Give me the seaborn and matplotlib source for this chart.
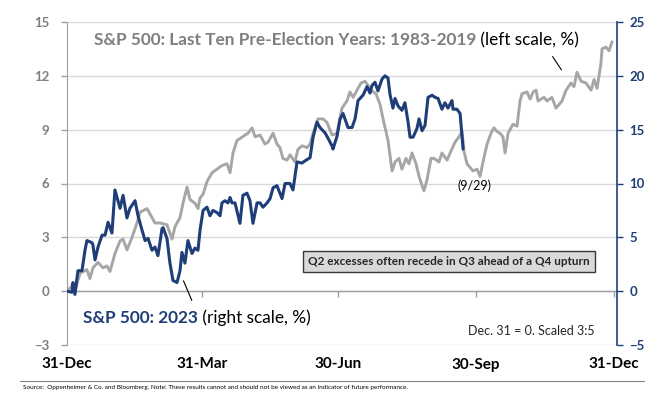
import seaborn as sns
import matplotlib.pyplot as plt
import pandas as pd

# gray: average of last ten pre-election years (left scale, %), x = days after Dec 31
gray_day = [0, 3.3, 5.3, 8.7, 13.3, 15.3, 17.3, 20.7, 24.0, 26.7, 28.7, 32.0, 35.4, 37.4, 40.0,
            43.4, 46.7, 48.7, 53.4, 55.4, 58.7, 62.1, 66.7, 70.1, 72.1, 75.4, 77.4, 80.1, 82.1,
            85.4, 87.4, 88.8, 90.8, 93.4, 96.8, 100.1, 103.4, 106.8, 108.8, 110.8, 113.4, 115.4,
            118.8, 120.8, 123.4, 125.5, 128.8, 132.1, 134.1, 137.5, 140.1, 142.1, 144.1, 146.8,
            148.8, 152.1, 154.1, 156.8, 160.2, 162.2, 164.2, 167.5, 170.8, 173.5, 176.8, 180.2,
            183.5, 186.8, 188.8, 190.9, 193.5, 196.2, 198.9, 202.9, 206.2, 208.9, 210.9, 214.2,
            216.9, 218.9, 221.5, 223.5, 226.2, 228.2, 230.2, 232.9, 234.9, 236.9, 238.2, 240.2,
            242.9, 244.9, 248.2, 250.2, 253.6, 256.2, 258.9, 261.6, 263.6, 264.9, 266.9, 268.9,
            270.9, 273.6, 275.6, 277.6, 280.3, 282.9, 284.9, 286.9, 288.9, 290.9, 292.3, 294.3,
            297.6, 300.3, 302.3, 303.6, 307.0, 309.0, 311.0, 313.0, 314.3, 318.3, 320.3, 323.6,
            326.3, 328.3, 330.3, 333.0, 336.3, 338.3, 340.3, 343.0, 346.3, 349.7, 351.7, 353.7,
            356.3, 357.0, 359.7, 361.7, 363.7]
gray_val = [0.0, 0.3, 0.0, 1.0, 1.2, 0.7, 1.3, 1.6, 1.3, 1.4, 1.1, 2.1, 2.8, 2.9, 2.3,
            3.0, 3.8, 4.4, 4.6, 4.3, 3.8, 3.8, 3.7, 2.9, 3.6, 4.1, 4.9, 5.8, 5.1,
            4.9, 4.6, 5.2, 5.4, 6.1, 6.6, 6.8, 7.0, 7.1, 6.6, 7.7, 8.4, 8.5,
            8.7, 8.8, 9.1, 8.6, 8.7, 8.2, 8.3, 8.8, 8.2, 8.0, 7.4, 7.3,
            7.6, 7.2, 7.9, 8.1, 8.0, 8.2, 8.8, 9.6, 9.6, 9.4, 8.7, 8.8,
            10.2, 10.6, 11.1, 10.8, 11.2, 11.6, 11.7, 11.2, 11.0, 10.4, 9.6, 8.4,
            6.7, 7.2, 7.4, 6.8, 7.4, 7.1, 7.7, 7.1, 6.4, 5.9, 5.6, 6.2,
            7.4, 7.4, 7.2, 7.7, 7.3, 7.8, 8.3, 8.6, 8.9, 7.8, 7.1, 6.9,
            6.7, 6.8, 6.4, 7.2, 8.2, 8.8, 9.1, 8.9, 8.8, 8.6, 7.7, 8.8,
            9.3, 9.2, 10.6, 11.0, 11.1, 10.7, 11.1, 11.2, 10.6, 10.8, 10.6, 10.8,
            10.2, 10.4, 10.6, 11.2, 11.6, 11.4, 12.2, 11.7, 11.6, 11.2, 11.8, 11.3,
            12.7, 13.5, 13.6, 13.4, 13.9]

# blue: S&P 500 in 2023 (right scale, %), through 9/29
blue_day = [0, 3.3, 4.0, 5.3, 7.3, 10.0, 12.0, 13.3, 16.7, 17.3, 18.7, 20.7, 23.4, 25.4,
            27.4, 30.0, 32.0, 35.4, 37.4, 40.0, 42.0, 45.4, 47.4, 50.0, 52.1, 54.1, 56.7,
            58.7, 60.7, 63.4, 64.1, 66.7, 68.7, 70.7, 73.4, 75.4, 76.7, 78.7, 80.7, 83.4,
            85.4, 87.4, 88.8, 90.8, 93.4, 95.4, 97.4, 100.1, 102.1, 103.4, 105.4, 107.4,
            108.8, 110.1, 112.1, 115.4, 117.4, 120.1, 122.1, 124.1, 126.8, 128.8, 130.8,
            133.5, 135.5, 137.5, 140.1, 143.5, 145.5, 148.8, 150.8, 153.5, 156.8, 158.8,
            162.2, 164.2, 166.8, 168.8, 172.2, 174.2, 176.8, 177.5, 180.2, 182.2, 184.2,
            187.5, 190.2, 192.2, 194.2, 197.5, 200.2, 202.2, 203.5, 205.5, 207.5, 210.2,
            212.2, 214.2, 215.5, 217.5, 218.9, 220.9, 223.5, 225.5, 227.6, 228.9, 230.9,
            233.5, 234.9, 236.9, 238.9, 240.9, 243.6, 245.6, 247.6, 250.2, 252.2, 254.2,
            256.9, 257.6, 260.2, 262.3, 264.3]
blue_val = [0.0, -0.1, 0.8, -0.3, 1.9, 1.9, 3.8, 4.7, 4.5, 4.3, 2.9, 4.1, 5.2, 5.2,
            6.4, 5.4, 9.4, 7.7, 8.9, 6.8, 7.7, 8.4, 7.0, 5.7, 4.7, 4.9, 3.8,
            4.1, 3.3, 5.8, 5.9, 4.9, 2.6, 1.0, 0.8, 1.9, 3.6, 2.6, 4.7, 3.5,
            4.0, 3.8, 5.7, 7.5, 7.8, 7.0, 7.5, 7.3, 7.0, 8.2, 8.4, 8.2,
            8.7, 8.2, 8.2, 6.3, 8.9, 9.1, 8.4, 6.3, 8.2, 8.2, 7.8,
            8.2, 8.6, 9.6, 9.8, 8.6, 10.0, 10.0, 9.4, 12.0, 11.9, 12.1,
            12.4, 14.3, 15.7, 15.2, 14.7, 14.2, 13.5, 13.2, 14.4, 16.0, 16.5,
            15.2, 15.2, 16.0, 17.7, 18.2, 19.0, 18.4, 19.1, 19.4, 18.6, 19.7,
            20.0, 19.8, 18.3, 17.0, 17.9, 17.2, 16.8, 17.5, 15.7, 14.3, 14.3,
            15.1, 16.0, 14.9, 15.4, 18.0, 18.2, 18.0, 17.9, 16.9, 17.5, 17.0,
            17.7, 16.9, 16.9, 16.5, 13.2]

tick_days = [0, 90, 181, 273, 365]
tick_labels = ['31-Dec', '31-Mar', '30-Jun', '30-Sep', '31-Dec']
left_ticks = [-3, 0, 3, 6, 9, 12, 15]
right_ticks = [-5, 0, 5, 10, 15, 20, 25]

GRAY = '#a6a6a6'
BLUE = '#1f3e78'
LABEL_GRAY = '#7f7f7f'

sns.set_style('white')
plt.rcParams['font.family'] = ['Lato', 'DejaVu Sans']

gray_df = pd.DataFrame({'day': gray_day, 'pct': gray_val})
blue_df = pd.DataFrame({'day': blue_day, 'pct': blue_val})

fig = plt.figure(figsize=(6.54, 3.99), dpi=100)
ax = fig.add_axes([67 / 654, 1 - 345 / 399, 550 / 654, 323 / 399])
ax2 = ax.twinx()

for y in left_ticks:
    ax.axhline(y, color='#d9d9d9', lw=1, zorder=0)
ax.axhline(0, color='#a0a0a0', lw=1, zorder=0)
ax.vlines(tick_days[1:], -0.33, 0, color='#a0a0a0', lw=1, zorder=0)

sns.lineplot(data=gray_df, x='day', y='pct', ax=ax, color=GRAY, lw=2.1, sort=False)
sns.lineplot(data=blue_df, x='day', y='pct', ax=ax2, color=BLUE, lw=2.2, sort=False)

ax.set_xlim(0, 367)
ax.set_ylim(-3, 15)
ax2.set_ylim(-5, 25)
ax.set_yticks(left_ticks)
ax2.set_yticks(right_ticks)
ax.set_xticks(tick_days)
ax.set_xticklabels(tick_labels, fontsize=11, fontweight='bold', color='black')
ax.tick_params(axis='x', length=0, pad=9)
ax.tick_params(axis='y', length=4, width=1, color='#a0a0a0', labelsize=9.5,
               labelcolor=LABEL_GRAY, pad=9)
ax2.tick_params(axis='y', length=4, width=1, color=BLUE, labelsize=9.5,
                labelcolor=BLUE, pad=5)
for lab in ax.get_yticklabels() + ax2.get_yticklabels():
    lab.set_fontweight('bold')
ax.set_xlabel('')
ax.set_ylabel('')
ax2.set_ylabel('')

for a in (ax, ax2):
    for s in ('top', 'bottom'):
        a.spines[s].set_visible(False)
ax.spines['right'].set_visible(False)
ax2.spines['left'].set_visible(False)
ax.spines['left'].set_color('#a0a0a0')
ax2.spines['right'].set_color(BLUE)
ax2.spines['right'].set_linewidth(1.2)

# titles / labels
t1 = ax.text(18, 14.0, 'S&P 500: Last Ten Pre-Election Years: 1983-2019', fontsize=12.4,
             fontweight='bold', color=LABEL_GRAY, va='center')
ax.annotate(' (left scale, %)', xy=(1, 0), xycoords=t1, fontsize=12.4, color='black',
            va='bottom')
ax.annotate('', xy=(331, 12.2), xytext=(323, 13.2),
            arrowprops=dict(arrowstyle='-', color='black', lw=0.8))

t2 = ax.text(11, -1.5, 'S&P 500: 2023', fontsize=12.4, fontweight='bold', color=BLUE,
             va='center')
ax.annotate(' (right scale, %)', xy=(1, 0), xycoords=t2, fontsize=12.4, color='black',
            va='bottom')
ax2.annotate('', xy=(77, 1.2), xytext=(84, -1.1),
             arrowprops=dict(arrowstyle='-', color='black', lw=0.8))

ax.text(272, 5.9, '(9/29)', fontsize=9, color='black', ha='center', va='center')
ax.text(255, 1.65, 'Q2 excesses often recede in Q3 ahead of a Q4 upturn', fontsize=8.5,
        fontweight='bold', ha='center', va='center',
        bbox=dict(boxstyle='square,pad=0.45', facecolor='#d9d9d9', edgecolor='#3a3a3a', lw=1))
ax.text(352, -2.2, 'Dec. 31 = 0. Scaled 3:5', fontsize=9, ha='right', va='center')

fig.add_artist(plt.Line2D([20 / 654, 644 / 654], [1 - 381 / 399] * 2, color='#808080', lw=0.8))
fig.text(23 / 654, 1 - 387 / 399, 'Source:  Oppenheimer & Co. and Bloomberg. Note: These results '
         'cannot and should not be viewed as an indicator of future performance.',
         fontsize=4.6, va='center', color='black')

fig.savefig('out.png', dpi=100)
